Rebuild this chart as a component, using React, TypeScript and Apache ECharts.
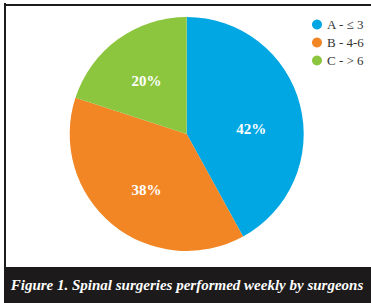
import React, { useEffect, useRef } from "react";
import * as echarts from "echarts";

const categories = ["A - ≤ 3", "B - 4-6", "C - > 6"];
const values = [42, 38, 20];
const colors = ["#00a7e3", "#f28524", "#8cc63f"];
const titleText = "Figure 1. Spinal surgeries performed weekly by surgeons";
const labelOffsets: [number, number][] = [[5, 10], [-1, 9], [-4, -3]];

export default function App() {
  const ref = useRef<HTMLDivElement>(null);
  useEffect(() => {
    document.body.style.margin = "0";
    const chart = echarts.init(ref.current!, null, { renderer: "svg" });
    chart.setOption({
      animation: false,
      backgroundColor: "#ffffff",
      legend: {
        orient: "vertical",
        left: 307,
        top: 13,
        icon: "circle",
        itemWidth: 10,
        itemHeight: 10,
        itemGap: 5,
        textStyle: { fontFamily: "Liberation Serif", fontSize: 13, color: "#333" },
        data: categories,
      },
      graphic: [
        { type: "rect", shape: { x: 4, y: 4, width: 367, height: 2 }, style: { fill: "#1c1c1c" } },
        { type: "rect", shape: { x: 4, y: 3, width: 2, height: 265 }, style: { fill: "#1c1c1c" } },
        { type: "rect", shape: { x: 4, y: 267, width: 367, height: 36 }, style: { fill: "#1c1a1a" } },
        {
          type: "text",
          x: 187,
          y: 285,
          style: {
            text: titleText,
            fill: "#ffffff",
            font: "italic bold 15px 'Liberation Serif'",
            align: "center",
            verticalAlign: "middle",
          },
        },
      ],
      series: [
        {
          type: "pie",
          center: [186.7, 134],
          radius: 117,
          startAngle: 90,
          clockwise: true,
          label: {
            position: "inside",
            formatter: "{c}%",
            color: "#ffffff",
            fontFamily: "Liberation Serif",
            fontWeight: "bold",
            fontSize: 15,
          },
          labelLine: { show: false },
          emphasis: { disabled: true },
          data: categories.map((name, i) => ({
            name,
            value: values[i],
            itemStyle: { color: colors[i] },
            label: { offset: labelOffsets[i] },
          })),
        },
      ],
    });
    return () => chart.dispose();
  }, []);
  return <div ref={ref} style={{ width: 371, height: 303 }} />;
}
